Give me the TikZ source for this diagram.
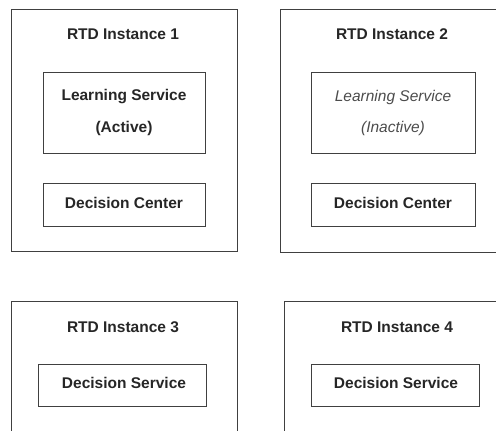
\documentclass[tikz,border=0pt]{standalone}
\usepackage{fontspec}
\setmainfont{Liberation Sans}
\begin{document}
\begin{tikzpicture}[x=1pt,y=-1pt,
  frame/.style={draw=black!75,line width=1.1pt,rectangle,inner sep=0pt,anchor=north west},
  ttl/.style={font=\fontsize{15.5}{18}\selectfont\bfseries,text=black!85,inner sep=0pt},
  lbl/.style={font=\fontsize{15.5}{18}\selectfont\bfseries,text=black!85,inner sep=0pt},
  lbli/.style={font=\fontsize{15.5}{18}\selectfont\itshape,text=black!70,inner sep=0pt}]
\useasboundingbox (0,0) rectangle (496,431);
\clip (0,0) rectangle (496,431);
% Instance 1
\node[frame,minimum width=226pt,minimum height=242pt] (b1) at (11,8.5) {};
\node[ttl] (t1) at (123,34) {RTD Instance 1};
\node[frame,minimum width=162pt,minimum height=81pt] (ls1) at (43,72) {};
\node[lbl] (ls1a) at (124,97) {Learning Service};
\node[lbl] (ls1b) at (124,128) {(Active)};
\node[frame,minimum width=162pt,minimum height=43pt] (dc1) at (43,183) {};
\node[lbl] (dc1t) at (124,203) {Decision Center};
% Instance 2
\node[frame,minimum width=240pt,minimum height=243pt] (b2) at (280,8.5) {};
\node[ttl] (t2) at (392,34) {RTD Instance 2};
\node[frame,minimum width=164pt,minimum height=81pt] (ls2) at (311,72) {};
\node[lbli] (ls2a) at (393,97) {Learning Service};
\node[lbli] (ls2b) at (393,128) {(Inactive)};
\node[frame,minimum width=164pt,minimum height=43pt] (dc2) at (311,183) {};
\node[lbl] (dc2t) at (393,203) {Decision Center};
% Instance 3
\node[frame,minimum width=226pt,minimum height=160pt] (b3) at (11,301) {};
\node[ttl] (t3) at (123,327) {RTD Instance 3};
\node[frame,minimum width=168pt,minimum height=42pt] (ds3) at (38,364) {};
\node[lbl] (ds3t) at (124,383) {Decision Service};
% Instance 4
\node[frame,minimum width=240pt,minimum height=160pt] (b4) at (284,301) {};
\node[ttl] (t4) at (397,327) {RTD Instance 4};
\node[frame,minimum width=168pt,minimum height=42pt] (ds4) at (311,364) {};
\node[lbl] (ds4t) at (396,383) {Decision Service};
\end{tikzpicture}
\end{document}
